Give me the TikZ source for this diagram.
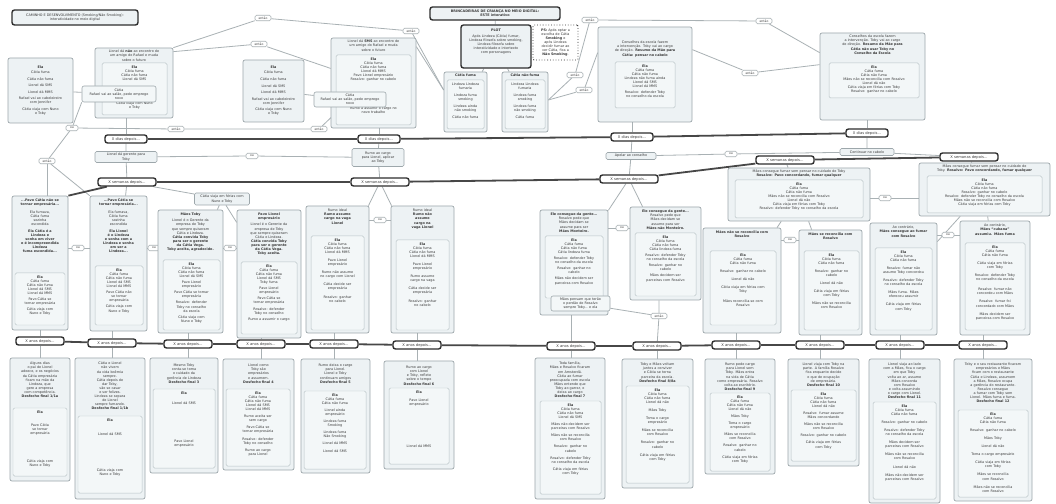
\documentclass[tikz,border=0pt]{standalone}
\usepackage{fontspec}
\setmainfont{DejaVu Sans}
\usetikzlibrary{fit,calc}
\definecolor{pfill}{HTML}{EDF2F4}
\definecolor{pdraw}{HTML}{9DA7AB}
\definecolor{ifill}{HTML}{F3F7F8}
\definecolor{idraw}{HTML}{B9C3C7}
\definecolor{tdraw}{HTML}{2E2E2E}
\definecolor{cline}{HTML}{A9B1B4}
\definecolor{txt}{HTML}{3A3A3A}
\pgfdeclarelayer{back}\pgfdeclarelayer{bg}\pgfsetlayers{back,bg,main}
\tikzset{
 panel/.style={draw=pdraw, fill=pfill, line width=0.7pt, rounded corners=2pt, inner sep=0pt},
 innerbox/.style={draw=idraw, fill=ifill, line width=0.5pt, rounded corners=1.5pt, inner sep=0pt},
 ovbox/.style={draw=pdraw, fill=ifill, line width=0.6pt, rounded corners=2pt, inner sep=0pt},
 ptext/.style={inner sep=0pt, align=center, text=txt, font={\fontsize{3.4}{4.1}\selectfont}},
 smallbox/.style={draw=pdraw, fill=pfill, line width=0.6pt, rounded corners=1.5pt, inner sep=0.8pt, align=center, text=txt, font={\fontsize{3.4}{4.1}\selectfont}},
 tl/.style={draw=tdraw, line width=1.4pt, fill=white, rounded corners=2.5pt, inner sep=1pt, minimum height=8bp, text=txt, font={\fontsize{3.7}{4.2}\selectfont}},
 dnode/.style={tl, minimum width=42bp},
 snode/.style={tl, minimum width=58bp},
 anode/.style={tl, minimum width=48bp},
 titlebox/.style={draw=tdraw, line width=1.4pt, fill=pfill, rounded corners=2.5pt, inner sep=0pt},
 tline/.style={draw=black!72, line width=1.8pt},
 conn/.style={draw=cline, line width=0.8pt},
 lbl/.style={draw=cline, fill=white, line width=0.6pt, rounded corners=1.5pt, inner sep=0.6pt, minimum height=5.5bp, minimum width=12bp, text=txt, font={\fontsize{3.1}{3.5}\selectfont}},
 wlbl/.style={lbl, minimum width=16bp},
}
\newcommand\pnl[7]{%
  \node[panel, fit={(#2,#3)(#4,#5)}] (#1) {};
  \pgfmathsetmacro\tw{#4-#2-4}%
  \node[ptext, text width=\tw bp, anchor=north] (#1-t) at ({(#2+#4)/2},{#3+#6}) {#7};
}
\newcommand\pnlc[6]{%
  \node[panel, fit={(#2,#3)(#4,#5)}] (#1) {};
  \pgfmathsetmacro\tw{#4-#2-4}%
  \node[ptext, text width=\tw bp] (#1-t) at (#1.center) {#6};
}
\newcommand\inn[6]{%
  \node[innerbox, fit={(#2,#3)(#4,#5)}] (#1) {};
  \pgfmathsetmacro\tw{#4-#2-3}%
  \node[ptext, text width=\tw bp, anchor=north] (#1-t) at ({(#2+#4)/2},{#3+2.5}) {#6};
}
\newcommand\ovl[6]{%
  \node[ovbox, fit={(#2,#3)(#4,#5)}] (#1) {};
  \node[ptext] (#1-t) at (#1.center) {#6};
}
\begin{document}
\begin{tikzpicture}[x=1bp,y=-1bp]
\begin{pgfonlayer}{back}
\fill[white] (0,0) rectangle (1056,504);
\end{pgfonlayer}
\useasboundingbox (0,0) rectangle (1056,504);

% ---------- titles ----------
\node[titlebox, fit={(12,10)(138,25)}] (T1) {};
\node[ptext] (T1t) at (T1.center) {CAMINHO E DESENVOLVIMENTO (Smoking/Não Smoking):\\interatividade no meio digital};
\node[titlebox, fit={(430,7)(560,20)}] (T2) {};
\node[ptext, font={\bfseries\fontsize{3.4}{4.1}\selectfont}] (T2t) at (T2.center) {BRINCADEIRAS DE CRIANÇA NO MEIO DIGITAL:\\ESTE interativo};
\node[titlebox, fit={(461,25)(531,68)}] (plot) {};
\node[ptext, anchor=north] (plott) at ($(plot.north)+(0,4)$) {\textbf{PLOT}\\[2pt]Após Lindeza (Cátia) fumar,\\Lindeza filosofa sobre smoking,\\Lindeza filosofa sobre\\interatividade e intertexto\\com personagens};
\node[draw=tdraw, dotted, line width=0.8pt, fill=white, rounded corners=1pt, inner sep=0pt, fit={(533,25)(578,60)}] (ps) {};
\node[ptext] (pst) at (ps.center) {\textbf{PS:} Após optar a\\escolha de Cátia\\\textbf{Smoking} e\\após Lindeza\\decidir fumar ao\\ver Cátia, fica a\\\textbf{Não Smoking}.};

% ---------- first row ----------
\pnlc{A}{8}{58}{73}{123}{\textbf{Ela}\\[1pt]Cátia fuma\\[2.5pt]Cátia não fuma\\[2.5pt]Lionel dá SMS\\[2.5pt]Lionel dá MMS\\[2.5pt]Rafael vai ao cabeleireiro\\com Jennifer\\[2.5pt]Cátia viaja com Nuno\\e Toby}
\pnl{B}{95}{48}{173}{118}{2}{Lionel dá \textbf{não} ao encontro de\\um amigo do Rafael e muda\\sobre o futuro}
\inn{Bi}{102}{63}{167}{115}{\textbf{Ela}\\Cátia fuma\\Cátia não fuma\\Lionel dá SMS\\[20pt]Cátia viaja com Nuno\\e Toby}
\ovl{oB}{82}{86}{156}{102}{Cátia\\Rafael vai ao salão, pede emprego\\novo}

\pnlc{D}{243}{60}{304}{122}{\textbf{Ela}\\[1pt]Cátia fuma\\[2.5pt]Cátia não fuma\\[2.5pt]Lionel dá SMS\\[2.5pt]Lionel dá MMS\\[2.5pt]Rafael vai ao cabeleireiro\\com Jennifer\\[2.5pt]Cátia viaja com Nuno\\e Toby}
\pnl{C}{331}{38}{416}{128}{2}{Lionel dá \textbf{SMS} ao encontro de\\um amigo do Rafael e muda\\sobre o futuro}
\inn{Ci}{336}{55}{411}{125}{\textbf{Ela}\\Cátia fuma\\Cátia não fuma\\Lionel dá MMS\\Pavo Lionel empresário\\Rosalvo: ganhar no cabelo\\[25pt]Rumo a assumir o cargo no\\novo trabalho}
\ovl{oC}{314}{92}{386}{107}{Cátia\\Rafael vai ao salão, pede emprego\\novo}

\pnl{CF}{444}{72}{487}{132}{2}{\textbf{Cátia fuma}}
\inn{CFi}{447}{80}{484}{129}{Lindeza Lindeza\\fumaria\\[3pt]Lindeza fuma\\smoking\\[3pt]Lindeza ainda\\não smoking\\[3pt]Cátia não fuma}
\pnl{CNF}{502}{72}{548}{132}{2}{\textbf{Cátia não fuma}}
\inn{CNFi}{505}{80}{545}{129}{Lindeza Lindeza\\fumaria\\[3pt]Lindeza fuma\\smoking\\[3pt]Lindeza fuma\\não smoking\\[3pt]Cátia fuma}

\pnl{E}{598}{27}{692}{122}{14}{Conselhos da escola fazem\\a intervenção. Toby vai ao cargo\\de direção. \textbf{Resumo da Mãe para}\\\textbf{Cátia: pensar no cabelo}}
\inn{Ei}{615}{62}{675}{108}{\textbf{Ela}\\Cátia fuma\\Cátia não fuma\\Lindeza não fuma ainda\\Lionel dá SMS\\Lionel dá MMS\\[2pt]Rosalvo: defender Toby\\no conselho da escola}
\pnl{F}{820}{33}{925}{120}{2}{Conselhos da escola fazem\\a intervenção. Toby vai ao cargo\\de direção. \textbf{Resumo da Mãe para}\\\textbf{Cátia não usar Toby no}\\\textbf{Conselho da Escola}}
\inn{Fi}{829}{63}{919}{98}{\textbf{Ela}\\Cátia fuma\\Cátia não fuma\\Mães não se reconcilia com Rosalvo\\Lionel dá não\\Cátia viaja em férias com Toby\\Rosalvo: ganhar no cabelo}

% ---------- labels ----------
\node[lbl] (L1) at (72,128) {ou};
\node[wlbl] (L2) at (176,129) {então};
\node[wlbl] (L3) at (47,161) {então};
\node[wlbl] (L4) at (263,18) {então};
\node[wlbl] (L5) at (259,44) {então};
\node[wlbl] (L6) at (411,31) {então};
\node[wlbl] (L7) at (319,129) {então};
\node[lbl] (L8) at (252,156) {ou};
\node[wlbl] (L9) at (590,20) {então};
\node[wlbl] (L10) at (764,21) {então};
\node[wlbl] (L11) at (575,75) {então};
\node[wlbl] (L12) at (584,90) {então};
\node[wlbl] (L13) at (750,73) {então};
\node[lbl] (L14) at (731,154) {ou};
\node[lbl] (L15) at (78,248) {ou};
\node[lbl] (L16) at (154,248) {ou};
\node[lbl] (L17) at (230,248) {ou};
\node[lbl] (L18) at (380,220) {ou};
\node[lbl] (L19) at (622,228) {ou};
\node[wlbl] (L20) at (659,316) {então};
\node[lbl] (L21) at (790,240) {ou};
\node[lbl] (L22) at (885,198) {ou};
\node[lbl] (L23) at (948,235) {ou};

% ---------- timeline nodes ----------
\node[dnode] (D1) at (126,139) {X dias depois...};
\node[dnode] (D2) at (379,139) {X dias depois...};
\node[dnode] (D3) at (632,137) {X dias depois...};
\node[dnode] (D4) at (867,133) {X dias depois...};
\node[snode] (S1) at (127,182) {X semanas depois...};
\node[snode] (S2) at (380,182) {X semanas depois...};
\node[snode] (S3) at (629,179) {X semanas depois...};
\node[snode] (S4) at (785,160) {X semanas depois...};
\node[snode] (S5) at (969,157) {X semanas depois...};
\node[anode] (A1) at (40,341) {X anos depois...};
\node[anode] (A2) at (112,343) {X anos depois...};
\node[anode] (A3) at (188,344) {X anos depois...};
\node[anode] (A4) at (261,344) {X anos depois...};
\node[anode] (A5) at (334,344) {X anos depois...};
\node[anode] (A6) at (417,345) {X anos depois...};
\node[anode] (A7) at (571,346) {X anos depois...};
\node[anode] (A8) at (657,346) {X anos depois...};
\node[anode] (A9) at (736,345) {X anos depois...};
\node[anode] (A10) at (820,345) {X anos depois...};
\node[anode] (A11) at (900,345) {X anos depois...};
\node[anode] (A12) at (983,345) {X anos depois...};

% ---------- between rows ----------
\node[smallbox, minimum width=62bp, minimum height=11bp] (LB) at (126,157) {Lionel dá gerente para\\Toby};
\node[smallbox, minimum width=52bp, minimum height=18bp] (RB) at (378,157.5) {Rumo ao cargo\\para Lionel, aplicar\\ao Toby};
\node[smallbox, minimum width=50bp, minimum height=7bp] (AB) at (631,156) {Apelar ao conselho};
\node[smallbox, minimum width=54bp, minimum height=7bp] (CB) at (867,152) {Continuar no cabelo};
\node[smallbox, minimum width=55bp, minimum height=12bp] (CV) at (222,199) {Cátia viaja em férias com\\Nuno e Toby};

% ---------- second row ----------
\pnl{G}{12}{196}{68}{330}{3}{\textbf{...Pavo Cátia não se}\\\textbf{tornar empresária...}\\[3pt]Ela fumava,\\Cátia fuma\\sozinha\\escondida\\[3pt]\textbf{Ela Cátia é a}\\\textbf{Lindeza e}\\\textbf{sonha em viver}\\\textbf{e é incompreendida}\\\textbf{Lindeza}\\\textbf{fuma escondida...}}
\inn{Gi}{15}{273}{65}{325}{\textbf{Ela}\\Cátia fuma\\Cátia não fuma\\Lionel dá SMS\\Lionel dá MMS\\[2pt]Pavo Cátia se\\tornar empresária\\[2pt]Cátia viaja com\\Nuno e Toby}
\pnl{H}{90}{196}{147}{331}{3}{\textbf{...Pavo Cátia se}\\\textbf{tornar empresária...}\\[3pt]Ela fumava,\\Cátia fuma\\sozinha\\escondida\\[3pt]\textbf{Ela Lionel}\\\textbf{é o Lindeza}\\\textbf{e sonha com a}\\\textbf{Lindeza e sonha}\\\textbf{em ser a}\\\textbf{Lindeza...}}
\inn{Hi}{95}{266}{143}{325}{\textbf{Ela}\\Cátia fuma\\Cátia não fuma\\Lionel dá SMS\\Lionel dá MMS\\[2pt]Pavo Cátia não\\se tornar\\empresária\\[2pt]Cátia viaja com\\Nuno e Toby}
\pnl{I}{158}{210}{223}{333}{3}{\textbf{Mãos Toby}\\[2pt]Lionel é o Gerente da\\empresa de Toby\\que sempre quiseram\\Cátia e Lindeza.\\\textbf{Cátia convida Toby}\\\textbf{para ser o gerente}\\\textbf{da Cátia Vega.}\\\textbf{Toby aceita, agradecido.}}
\inn{Ii}{163}{260}{220}{330}{\textbf{Ela}\\Cátia fuma\\Cátia não fuma\\Lionel dá SMS\\[2pt]Pavo Lionel\\empresário\\[2pt]Pavo Cátia se tornar\\empresária\\[2pt]Rosalvo: defender\\Toby no conselho\\da escola\\[2pt]Cátia viaja com\\Nuno e Toby}
\pnl{J}{237}{210}{301}{338}{3}{\textbf{Pavo Lionel}\\\textbf{empresário}\\[2pt]Lionel é o Gerente da\\empresa de Toby\\que sempre quiseram\\Cátia e Lindeza.\\\textbf{Cátia convida Toby}\\\textbf{para ser o gerente}\\\textbf{da Cátia Vega.}\\\textbf{Toby aceita.}}
\inn{Ji}{241}{262}{297}{334}{\textbf{Ela}\\Cátia fuma\\Cátia não fuma\\Lionel dá SMS\\Toby fuma\\[2pt]Pavo Lionel\\empresário\\[2pt]Pavo Cátia se\\tornar empresária\\[2pt]Rosalvo: defender\\Toby no conselho\\[2pt]Rumo a assumir o cargo}
\pnl{K}{306}{206}{369}{333}{3}{Rumo ideal\\\textbf{Rumo assume}\\\textbf{cargo na vaga}\\\textbf{Lionel}}
\inn{Ki}{311}{236}{364}{330}{\textbf{Ela}\\Cátia fuma\\Cátia não fuma\\Lionel dá MMS\\[4pt]Pavo Lionel\\empresário\\[4pt]Rumo não assume\\no cargo com Lionel\\[4pt]Cátia decide ser\\empresária\\[4pt]Rosalvo: ganhar\\no cabelo}
\pnl{Lb}{391}{206}{454}{333}{3}{Rumo ideal\\\textbf{Rumo não}\\\textbf{assume}\\\textbf{cargo na}\\\textbf{vaga Lionel}}
\inn{Lbi}{396}{240}{449}{330}{\textbf{Ela}\\Cátia fuma\\Cátia não fuma\\Lionel dá MMS\\[4pt]Pavo Lionel\\empresário\\[4pt]Rumo assume\\cargo na vaga\\[4pt]Cátia decide ser\\empresária\\[4pt]Rosalvo: ganhar\\no cabelo}
\pnl{M}{540}{210}{608}{315}{3}{\textbf{Ele consegue da gente...}\\Rosalvo pede que\\Mães decidam se\\assume para ser\\\textbf{Mães Monteiro.}}
\inn{Mi}{545}{236}{603}{298}{\textbf{Ela}\\Cátia fuma\\Cátia não fuma\\Cátia lindeza fuma\\[2pt]Rosalvo: defender Toby\\no conselho da escola\\[2pt]Rosalvo: ganhar no\\cabelo\\[2pt]Mães não decidem ser\\parceiras com Rosalvo}
\ovl{oM}{551}{296}{610}{311}{Mães pensam que terão\\o perdão de Rosalvo\\sempre Toby... e ela}
\pnl{N}{630}{207}{701}{300}{3}{\textbf{Ele consegue da gente...}\\Rosalvo pede que\\Mães decidam se\\assume para ser\\\textbf{Mães não Monteiro.}}
\inn{Ni}{635}{233}{696}{296}{\textbf{Ela}\\Cátia fuma\\Cátia não fuma\\Cátia lindeza fuma\\[2pt]Rosalvo: defender Toby\\no conselho da escola\\[2pt]Rosalvo: ganhar no\\cabelo\\[2pt]Mães decidem ser\\parceiras com Rosalvo}
\pnl{O}{703}{228}{781}{333}{3}{\textbf{Mães não se reconcilia com}\\\textbf{Rosalvo}}
\inn{Oi}{710}{251}{776}{325}{\textbf{Ela}\\Cátia fuma\\Cátia não fuma\\[4pt]Rosalvo: ganhar no cabelo\\[4pt]Lionel dá não\\[4pt]Cátia viaja em férias com\\Toby\\[6pt]Mães reconcilia-se com\\Rosalvo}
\pnl{P}{728}{168}{870}{221}{2}{Mães consegue fumar sem pensar no cuidado de Toby\\\textbf{Rosalvo: Pavo concordando, fumar qualquer}}
\inn{Pi}{735}{180}{863}{218}{\textbf{Ela}\\Cátia fuma\\Cátia não fuma\\Mães não se reconcilia com Rosalvo\\Lionel dá não\\Cátia viaja em férias com Toby\\Rosalvo: defender Toby no conselho da escola}
\pnl{Q}{919}{163}{1050}{216}{2}{Mães consegue fumar sem pensar no cuidado de\\Toby. \textbf{Rosalvo: Pavo concordando, fumar qualquer}}
\inn{Qi}{927}{176}{1042}{213}{\textbf{Ela}\\Cátia fuma\\Cátia não fuma\\Rosalvo: ganhar no cabelo\\Rosalvo: defender Toby no conselho da escola\\Mães não se reconcilia com Rosalvo\\Cátia viaja em férias com Toby}
\pnl{R}{799}{230}{862}{335}{3}{\textbf{Mães se reconcilia com}\\\textbf{Rosalvo}}
\inn{Ri}{804}{251}{859}{330}{\textbf{Ela}\\Cátia fuma\\Cátia não fuma\\[4pt]Rosalvo: ganhar no\\cabelo\\[4pt]Lionel dá não\\[4pt]Cátia viaja em férias\\com Toby\\[4pt]Mães não se reconcilia\\com Rosalvo}
\pnl{S}{870}{223}{937}{335}{3}{Ao contrário,\\\textbf{Mães consegue ao fumar}\\\textbf{com Rosalvo}}
\inn{Si}{875}{248}{932}{330}{\textbf{Ela}\\Cátia fuma\\Cátia não fuma\\[4pt]Rosalvo: fumar não\\assume Toby concordou\\[4pt]Rosalvo: defender Toby\\no conselho da escola\\[4pt]Mães fuma. Mães\\ofereceu assumir\\[4pt]Cátia viaja em férias\\com Toby}
\pnl{T}{960}{221}{1030}{335}{3}{Ao contrário,\\\textbf{Mães ``cubana''}\\\textbf{assumiu. Mães fuma}}
\inn{Ti}{965}{243}{1025}{330}{\textbf{Ela}\\Cátia fuma\\Cátia não fuma\\[4pt]Cátia viaja em férias\\com Toby\\[4pt]Rosalvo: defender Toby\\no conselho da escola\\[6pt]Rosalvo: fumar não\\concordou com Mães\\[4pt]Rosalvo: fumar foi\\concordado com Mães\\[4pt]Mães decidem ser\\parceiras com Rosalvo}

% ---------- third row ----------
\pnl{U1}{10}{358}{70}{481}{4}{Alguns dias\\o pai de Lionel\\adoece, e os negócios\\da Cátia empresária\\ficam na mão da\\Lindeza, que\\gere a empresa\\com competência.\\\textbf{Desfecho final 1/1a}}
\inn{U1i}{13}{408}{67}{476}{\textbf{Ela}\\[9pt]Pavo Cátia\\se tornar\\empresária\\[24pt]Cátia viaja com\\Nuno e Toby}
\pnl{U2}{75}{358}{145}{499}{4}{Cátia e Lionel\\não vivem\\da vida boêmia\\sempre.\\Cátia depois de\\dar Toby,\\vão se casar\\e ser felizes.\\Lindeza se separa\\de Lionel\\sempre fumando.\\\textbf{Desfecho final 1/1b}}
\inn{U2i}{78}{416}{142}{493}{\textbf{Ela}\\[10pt]Lionel dá SMS\\[32pt]Cátia viaja com\\Nuno e Toby}
\pnl{U3}{150}{358}{218}{473}{6}{Mesmo Toby\\conta-se toma\\o cuidado da\\gerência de Lindeza\\\textbf{Desfecho final 3}}
\inn{U3i}{153}{389}{215}{468}{\textbf{Ela}\\[6pt]Lionel dá SMS\\[34pt]Pavo Lionel\\empresário}
\pnl{U4}{223}{359}{294}{470}{5}{Lionel como\\Toby são\\empresários\\e assumem.\\\textbf{Desfecho final 4}}
\inn{U4i}{226}{389}{290}{466}{\textbf{Ela}\\Cátia fuma\\Cátia não fuma\\Lionel dá SMS\\Lionel dá MMS\\[3pt]Rumo aceita ser\\sem cargo\\[3pt]Pavo Cátia se\\tornar empresária\\[3pt]Rosalvo: defender\\Toby no conselho\\[3pt]Rumo ao cargo\\para Lionel}
\pnl{U5}{301}{359}{370}{473}{5}{Rumo deixa o cargo\\para Lionel.\\Lionel e Toby\\continuam amigos\\\textbf{Desfecho final 5}}
\inn{U5i}{304}{391}{366}{469}{\textbf{Ela}\\Cátia fuma\\Cátia não fuma\\[3pt]Lionel ainda\\empresário\\[3pt]Lindeza fuma\\Smoking\\[3pt]Lindeza fuma\\Não Smoking\\[3pt]Lionel dá MMS\\[3pt]Lionel dá SMS}
\pnl{U6}{384}{361}{454}{469}{5}{Rumo ao cargo\\com Lionel\\e Toby, reflete\\sobre o tempo\\\textbf{Desfecho final 6}}
\inn{U6i}{389}{388}{449}{464}{\textbf{Ela}\\[4pt]Pavo Lionel\\empresário\\[38pt]Lionel dá MMS}
\pnl{U7}{535}{358}{605}{499}{4}{Toda família,\\Mães e Rosalvo ficaram\\em Amsterdã.\\Cátia ao fumar\\preocupada com escola\\Mães entende que\\Toby ao garrar, o\\deixa ao cargo\\\textbf{Desfecho final 7}}
\inn{U7i}{540}{401}{601}{494}{\textbf{Ela}\\Cátia fuma\\Cátia não fuma\\Lionel dá SMS\\[3pt]Mães não decidem ser\\parceiras com Rosalvo\\[3pt]Mães não se reconcilia\\com Rosalvo\\[3pt]Rosalvo: ganhar no\\cabelo\\[3pt]Rosalvo: defender Toby\\no conselho da escola\\[3pt]Cátia viaja em férias\\com Toby}
\pnl{U8}{622}{359}{693}{488}{4}{Toby e Mães voltam\\juntos a conviver\\e Cátia se torna\\parceira da escola.\\\textbf{Desfecho final 8/8a}}
\inn{U8i}{626}{386}{689}{483}{\textbf{Ela}\\Cátia fuma\\Cátia não fuma\\Lionel dá não\\[4pt]Mães Toby\\[4pt]Toma o cargo\\empresário\\[4pt]Mães se reconcilia\\com Rosalvo\\[4pt]Rosalvo: ganhar no\\cabelo\\[4pt]Cátia viaja em férias\\com Toby}
\pnl{U9}{705}{359}{775}{474}{4}{Rumo pede cargo\\para Lionel sem\\Toby. Mães entra\\na vida de Cátia\\como empresária. Rosalvo\\volta ao escritório.\\\textbf{Desfecho final 9}}
\inn{U9i}{710}{393}{770}{471}{\textbf{Ela}\\Cátia fuma\\Cátia não fuma\\Lionel dá não\\[3pt]Mães Toby\\[3pt]Toma o cargo\\empresário\\[3pt]Mães se reconcilia\\com Rosalvo\\[3pt]Rosalvo: ganhar no\\cabelo\\[3pt]Cátia viaja em férias\\com Toby}
\pnl{U10}{788}{359}{859}{466}{4}{Lionel viaja com Toby na\\parte. A família Rosalvo\\fica enquanto decide\\o que de ocupação\\de empresária.\\\textbf{Desfecho final 10}}
\inn{U10i}{791}{390}{856}{461}{\textbf{Ela}\\Cátia fuma\\Cátia não fuma\\Lionel dá não\\[3pt]Rosalvo: fumar assume\\Mães concordando\\[3pt]Mães não se reconcilia\\com Rosalvo\\[3pt]Rosalvo: ganhar no cabelo\\[3pt]Cátia viaja em férias\\com Toby}
\pnl{U11}{869}{359}{940}{503}{4}{Lionel viaja ao lado\\com a Mães, fica o cargo\\em que Toby\\volta ao ar, assume\\Mães concorda\\com Rosalvo\\e volta assumindo\\o cargo com Lionel.\\\textbf{Desfecho final 11}}
\inn{U11i}{873}{402}{936}{499}{\textbf{Ela}\\Cátia fuma\\Cátia não fuma\\[4pt]Rosalvo: ganhar no cabelo\\[4pt]Rosalvo: defender Toby\\no conselho da escola\\[4pt]Mães decidem ser\\parceiras com Rosalvo\\[4pt]Mães não se reconcilia\\com Rosalvo\\[4pt]Lionel dá não\\[4pt]Mães não decidem ser\\parceiras com Rosalvo}
\pnl{U12}{954}{359}{1032}{501}{4}{Toby e o seu restaurante ficaram\\empresários e Mães\\ficam com o restaurante\\Cátia e Lindeza, assumem\\a Mães, Rosalvo ocupa\\a gerência do restaurante.\\Rosalvo consegue\\a fumar com Toby sem\\Lionel. Mães fuma e fuma.\\\textbf{Desfecho final 12}}
\inn{U12i}{958}{410}{1028}{497}{\textbf{Ela}\\Cátia fuma\\Cátia não fuma\\[4pt]Rosalvo: ganhar no cabelo\\[4pt]Mães Toby\\[4pt]Lionel dá não\\[4pt]Toma o cargo empresário\\[4pt]Cátia viaja em férias\\com Toby\\[4pt]Mães se reconcilia\\com Rosalvo\\[4pt]Mães não se reconcilia\\com Rosalvo}

% ---------- connectors ----------
\begin{pgfonlayer}{bg}
\draw[conn] (T2) -- (plot);
\draw[conn] (plot) -- (CF);
\draw[conn] (plot) -- (CNF);
\draw[conn] (B.north east) -- (L4) -- (L6) -- ($(CF.west)+(0,-12)$);
\draw[conn] ($(B.north east)+(0,4)$) -- (L5) -- (C);
\draw[conn] ($(C.north east)+(0,9)$) -- ($(CF.west)+(0,-12)$);
\draw[conn] ($(CNF.east)+(0,-2)$) -- (L11) -- (L9) -- (L10) -- ($(F.north west)+(0,20)$);
\draw[conn] ($(CNF.east)+(0,-2)$) -- (L12) -- ($(E.north west)+(0,26)$);
\draw[conn] ($(E.north east)+(0,23)$) -- (L13) -- ($(F.north west)+(0,32)$);
\draw[conn] (A) -- (oB);
\draw[conn] (D) -- (oC);
\draw[conn] (oB.south west) -- (L1);
\draw[conn] (L1) -- (L2) -- (L7) -- (oC);
\draw[conn] (L1) -- (L3);
\draw[conn] (L3) -- (L3 |- G.north);
\draw[conn] (L3) -- (H.north west);
\draw[conn] (B.south -| D1) -- (D1);
\draw[conn] (D1) -- (LB) -- (S1);
\draw[conn] (LB) -- (L8) -- (RB);
\draw[conn] (C.south -| D2) -- (D2);
\draw[conn] (D2) -- (RB) -- (S2);
\draw[conn] (E.south -| D3) -- (D3);
\draw[conn] (D3) -- (AB) -- (S3);
\draw[conn] (AB) -- (L14) -- (CB);
\draw[conn] (F.south -| D4) -- (D4);
\draw[conn] (D4) -- (CB) -- (S5);
\draw[conn] (S1) -- (H);
\draw[conn] (S1) -- (CV);
\draw[conn] (CV) -- (I);
\draw[conn] (CV) -- (J);
\draw[conn] (G.east |- L15) -- (L15) -- (H.west |- L15);
\draw[conn] (H.east |- L16) -- (L16) -- (I.west |- L16);
\draw[conn] (I.east |- L17) -- (L17) -- (J.west |- L17);
\draw[conn] (S2) -- (K);
\draw[conn] (S2) -- (Lb);
\draw[conn] (K.east |- L18) -- (L18) -- (Lb.west |- L18);
\draw[conn] (S3) -- (M);
\draw[conn] (S3) -- (N);
\draw[conn] (M.east |- L19) -- (L19) -- (N.west |- L19);
\draw[conn] (oM) -- (L20);
\draw[conn] (N.south -| L20) -- (L20) -- (A8);
\draw[conn] (S4) -- (P);
\draw[conn] (P) -- (R);
\draw[conn] (P) -- (O);
\draw[conn] (O.east |- L21) -- (L21) -- (R.west |- L21);
\draw[conn] (P.east |- L22) -- (L22) -- (Q.west |- L22);
\draw[conn] (S5) -- (Q);
\draw[conn] (Q) -- (S);
\draw[conn] (Q) -- (T);
\draw[conn] (S.east |- L23) -- (L23) -- (T.west |- L23);
\foreach \b/\a/\u in {G/A1/U1, H/A2/U2, I/A3/U3, J/A4/U4, K/A5/U5, Lb/A6/U6, M/A7/U7, O/A9/U9, R/A10/U10, S/A11/U11, T/A12/U12}{
  \draw[conn] (\b.south -| \a) -- (\a);
  \draw[conn] (\a) -- (\a |- \u.north);
}
\draw[conn] (A8) -- (A8 |- U8.north);
% thick timelines
\draw[tline] (D1) -- (D2);
\draw[tline] (D2) -- (D3);
\draw[tline] (D3) -- (D4);
\draw[tline] (S1) -- (S2);
\draw[tline] (S2) -- (S3);
\draw[tline] (S3) -- (S4);
\draw[tline] (S4) -- (S5);
\draw[tline] (S1) -- (G.north east);
\foreach \p/\q in {A1/A2, A2/A3, A3/A4, A4/A5, A5/A6, A6/A7, A7/A8, A8/A9, A9/A10, A10/A11, A11/A12}{
  \draw[tline] (\p) -- (\q);
}
\end{pgfonlayer}
\end{tikzpicture}
\end{document}
